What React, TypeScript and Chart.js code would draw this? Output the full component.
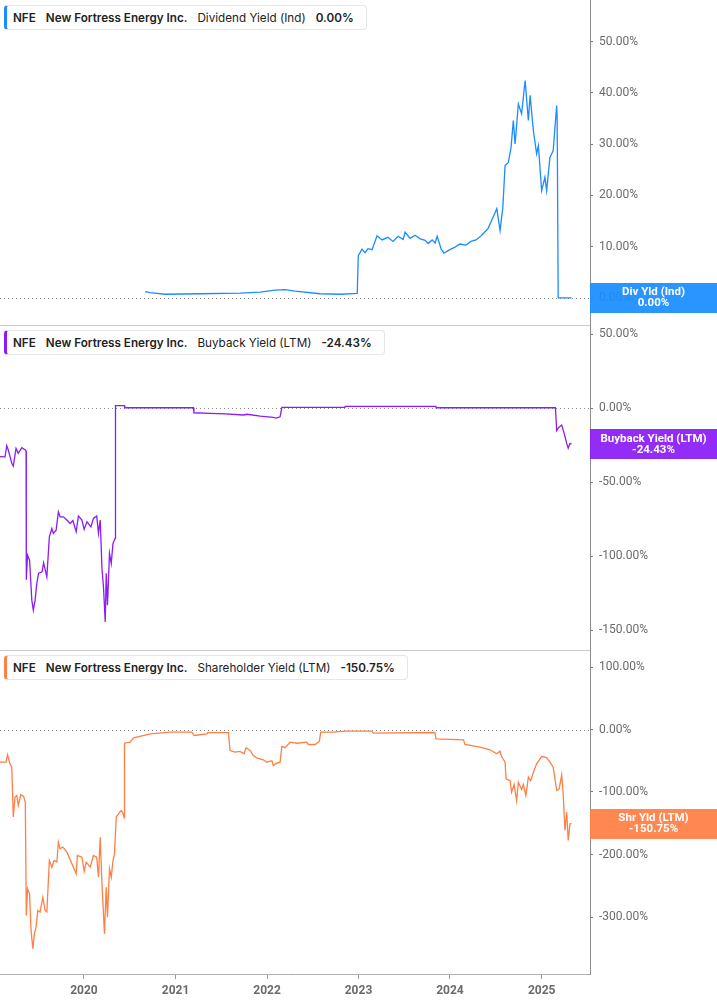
import React, { useEffect, useRef } from "react";
import { Chart, registerables } from "chart.js";

Chart.register(...registerables);

// ---------- data ----------
const X_MIN = "2019-01-31";
const X_MAX = "2025-07-13";
const YEAR_TICKS = [2020, 2021, 2022, 2023, 2024, 2025];

const DIV_DATES = [
  "2020-09-01", "2020-09-21", "2020-10-10", "2020-11-20", "2021-04-09", "2021-09-16", "2021-12-05",
  "2022-02-02", "2022-03-14", "2022-04-23", "2022-08-01", "2022-10-20", "2022-12-27", "2022-12-31",
  "2023-01-15", "2023-01-27", "2023-02-08", "2023-02-24", "2023-03-16", "2023-04-05", "2023-04-28",
  "2023-05-19", "2023-06-08", "2023-06-28", "2023-07-06", "2023-07-26", "2023-08-15", "2023-09-04",
  "2023-09-24", "2023-10-06", "2023-10-22", "2023-11-03", "2023-11-11", "2023-11-27", "2023-12-08",
  "2023-12-28", "2024-01-21", "2024-02-10", "2024-03-05", "2024-03-25", "2024-04-14", "2024-04-30",
  "2024-05-12", "2024-06-01", "2024-06-21", "2024-07-06", "2024-07-19", "2024-07-30", "2024-08-08",
  "2024-08-21", "2024-09-01", "2024-09-10", "2024-09-17", "2024-09-30", "2024-10-13", "2024-10-27",
  "2024-11-09", "2024-11-16", "2024-11-29", "2024-12-12", "2024-12-19", "2025-01-01", "2025-01-14",
  "2025-01-21", "2025-02-03", "2025-02-16", "2025-03-02", "2025-03-04", "2025-03-08", "2025-04-30",
];
const DIV_VALUES = [
  1.2, 1.0, 0.9, 0.7, 0.8, 0.9, 1.1,
  1.5, 1.6, 1.3, 0.8, 0.7, 0.85, 8.2,
  9.5, 8.8, 9.6, 9.4, 12.1, 11.3, 11.8,
  11.0, 12.0, 11.4, 12.8, 11.6, 12.2, 11.5,
  11.2, 10.6, 11.3, 10.7, 12.0, 9.5, 8.7,
  9.3, 9.9, 10.5, 10.3, 11.0, 11.3, 11.9,
  12.5, 13.5, 15.7, 17.4, 13.1, 17.6, 25.8,
  26.4, 29.4, 34.6, 30.0, 37.8, 35.9, 42.4,
  34.6, 39.5, 32.6, 28.1, 29.7, 20.9, 23.5,
  20.9, 27.4, 28.7, 37.5, 34.6, 0, 0,
];

const BUY_DATES = [
  "2019-01-31", "2019-02-20", "2019-02-27", "2019-03-05", "2019-03-19", "2019-03-25", "2019-04-05",
  "2019-04-14", "2019-04-28", "2019-05-12", "2019-05-15", "2019-05-16", "2019-05-21", "2019-05-29",
  "2019-06-07", "2019-06-13", "2019-06-20", "2019-06-27", "2019-07-04", "2019-07-18", "2019-07-24",
  "2019-08-06", "2019-08-16", "2019-08-26", "2019-09-01", "2019-09-12", "2019-09-21", "2019-09-28",
  "2019-10-11", "2019-10-25", "2019-11-07", "2019-11-18", "2019-12-01", "2019-12-10", "2019-12-24",
  "2020-01-02", "2020-01-13", "2020-01-29", "2020-02-08", "2020-02-21", "2020-02-28", "2020-03-06",
  "2020-03-13", "2020-03-19", "2020-03-26", "2020-03-30", "2020-04-04", "2020-04-12", "2020-04-19",
  "2020-04-26", "2020-05-02", "2020-05-05", "2020-05-06", "2020-06-11", "2020-06-12", "2021-03-13",
  "2021-03-15", "2021-05-19", "2021-07-18", "2021-09-28", "2021-10-13", "2021-12-05", "2022-01-26",
  "2022-02-06", "2022-02-22", "2022-03-01", "2022-11-08", "2022-11-09", "2023-11-06", "2023-11-07",
  "2025-02-25", "2025-03-02", "2025-03-11", "2025-03-22", "2025-04-01", "2025-04-11", "2025-04-17",
  "2025-04-24", "2025-04-30",
];
const BUY_VALUES = [
  -32.9, -33, -25.5, -28.4, -37.4, -39.2, -27.3,
  -30.6, -26.8, -28.4, -29, -116, -99.4, -102.8,
  -129.8, -136.6, -129.8, -118.3, -111.6, -110.7, -104.6,
  -114.1, -87, -81.4, -84.7, -82.5, -70.1, -73.5,
  -73.5, -75.7, -78, -76, -83.6, -73, -75.7,
  -82, -76.9, -80.3, -74.6, -73, -84.7, -75.7,
  -108.4, -120.8, -144.5, -111.6, -133.2, -98.2, -105,
  -91.5, -89.2, -88, 1.6, 1.6, 0.2, 0.2,
  -3.2, -3.6, -4.0, -4.7, -4.2, -5.5, -6.3,
  -6.8, -5.9, 0.5, 0.5, 1.1, 1.1, 0.2,
  0.2, -15.3, -13, -11.5, -17.1, -23.9, -27.2,
  -23.9, -24.43,
];

const SHR_DATES = [
  "2019-01-31", "2019-02-24", "2019-03-02", "2019-03-12", "2019-03-19", "2019-03-25", "2019-04-01",
  "2019-04-08", "2019-04-14", "2019-04-24", "2019-05-05", "2019-05-12", "2019-05-16", "2019-05-21",
  "2019-05-29", "2019-06-04", "2019-06-11", "2019-06-17", "2019-06-24", "2019-07-01", "2019-07-10",
  "2019-07-21", "2019-07-30", "2019-08-06", "2019-08-16", "2019-08-26", "2019-09-04", "2019-09-15",
  "2019-09-21", "2019-09-28", "2019-10-09", "2019-10-25", "2019-11-14", "2019-12-01", "2019-12-06",
  "2019-12-24", "2020-01-02", "2020-01-10", "2020-01-26", "2020-02-08", "2020-02-21", "2020-02-28",
  "2020-03-06", "2020-03-13", "2020-03-19", "2020-03-23", "2020-03-30", "2020-04-04", "2020-04-12",
  "2020-04-19", "2020-04-26", "2020-05-02", "2020-05-09", "2020-05-18", "2020-05-28", "2020-06-04",
  "2020-06-10", "2020-06-11", "2020-07-03", "2020-07-17", "2020-09-22", "2020-12-10", "2021-03-07",
  "2021-03-16", "2021-05-06", "2021-05-09", "2021-07-31", "2021-08-06", "2021-08-26", "2021-09-15",
  "2021-10-01", "2021-10-09", "2021-10-25", "2021-11-07", "2021-11-21", "2021-12-17", "2021-12-31",
  "2022-01-20", "2022-01-26", "2022-02-08", "2022-02-22", "2022-03-01", "2022-03-14", "2022-04-03",
  "2022-04-30", "2022-06-08", "2022-06-15", "2022-07-12", "2022-07-29", "2022-08-03", "2022-09-22",
  "2022-11-08", "2023-02-22", "2023-03-01", "2023-11-02", "2023-11-06", "2024-02-24", "2024-03-01",
  "2024-04-30", "2024-06-09", "2024-07-05", "2024-07-19", "2024-07-25", "2024-08-08", "2024-08-12",
  "2024-08-28", "2024-09-03", "2024-09-13", "2024-09-23", "2024-09-30", "2024-10-13", "2024-10-20",
  "2024-10-30", "2024-11-09", "2024-11-18", "2024-11-29", "2024-12-12", "2025-01-01", "2025-01-21",
  "2025-02-03", "2025-02-16", "2025-03-02", "2025-03-12", "2025-03-22", "2025-03-28", "2025-04-04",
  "2025-04-11", "2025-04-17", "2025-04-24", "2025-04-30",
];
const SHR_VALUES = [
  -52.3, -52, -40.5, -55, -60.3, -140, -108,
  -105.6, -121.6, -104, -107, -116, -297.6, -254.9,
  -263, -321.6, -350.9, -326.9, -316.3, -289.6, -292.3,
  -268.3, -289.6, -292, -209.6, -220.3, -209.6, -212,
  -180.3, -190.9, -188, -196.3, -214.9, -230.9, -201.6,
  -204.3, -226.7, -212.3, -220.3, -201.6, -204.3, -236.3,
  -172.3, -246.9, -294.9, -326.9, -252.3, -300.3, -222.9,
  -236.3, -209.6, -198.9, -140.3, -134.9, -129.6, -133,
  -141.3, -21.9, -20.3, -13.3, -6.9, -4.3, -4.3,
  -9.6, -6.9, -5, -5, -33.6, -36.3, -35,
  -38.9, -29.3, -33.6, -41.6, -45.3, -48.5, -52.3,
  -50, -57.6, -53.9, -52.3, -27.2, -29, -20.3,
  -22, -20.3, -24, -24, -18.7, -4.3, -4.3,
  -2.7, -2.7, -5.9, -4.8, -14.9, -16.5, -24,
  -28.3, -32.5, -38.9, -34.7, -43.2, -52.3, -78.9,
  -82, -100.3, -88, -113.6, -84.3, -96, -88,
  -105.6, -76.3, -82, -68.3, -54.9, -43.2, -45,
  -52.3, -60.3, -97.6, -95, -72.5, -102.9, -161.6,
  -132.3, -177.6, -150.9, -150.75,
];

const DIV_TICKS = [0, 10, 20, 30, 40, 50];
const BUY_TICKS = [50, 0, -50, -100, -150];
const SHR_TICKS = [100, 0, -100, -200, -300];

// ---------- helpers ----------
const ts = (d: string) => {
  const [y, m, dd] = d.split("-").map(Number);
  return Date.UTC(y, m - 1, dd);
};
const pct = (v: number) => `${v.toFixed(2)}%`;

const AXIS_W = 127;
const W = 717;

type PanelProps = {
  top: number;
  height: number;
  dates: string[];
  values: number[];
  color: string;
  yMin: number;
  yMax: number;
  ticks: number[];
  boxLabel: string;
  seriesName: string;
  showX: boolean;
  topLine: boolean;
};

function Panel(p: PanelProps) {
  const ref = useRef<HTMLCanvasElement | null>(null);
  useEffect(() => {
    if (!ref.current) return;
    const last = p.values[p.values.length - 1];
    const decor = {
      id: "decor",
      beforeDatasetsDraw(chart: any) {
        const { ctx, chartArea: a } = chart;
        const y0 = Math.round(chart.scales.y.getPixelForValue(0)) + 0.5;
        ctx.save();
        ctx.strokeStyle = "#8a8a8a";
        ctx.lineWidth = 1;
        ctx.setLineDash([1, 3]);
        ctx.beginPath();
        ctx.moveTo(a.left, y0);
        ctx.lineTo(a.right, y0);
        ctx.stroke();
        if (p.topLine) {
          ctx.setLineDash([]);
          ctx.strokeStyle = "#c9c9c9";
          ctx.beginPath();
          ctx.moveTo(a.left, a.top + 0.5);
          ctx.lineTo(a.right, a.top + 0.5);
          ctx.stroke();
        }
        ctx.restore();
      },
      afterDraw(chart: any) {
        const { ctx, chartArea: a } = chart;
        const yc = chart.scales.y.getPixelForValue(last);
        const h = 30;
        ctx.save();
        ctx.globalAlpha = 0.93;
        ctx.fillStyle = p.color;
        ctx.fillRect(a.right, Math.round(yc - h / 2), W - a.right, h);
        ctx.globalAlpha = 1;
        ctx.fillStyle = "#ffffff";
        ctx.font = "bold 11.5px Roboto";
        ctx.textAlign = "center";
        ctx.textBaseline = "middle";
        const cx = a.right + (W - a.right) / 2;
        ctx.fillText(p.boxLabel, cx, yc - 5.5);
        ctx.fillText(pct(last), cx, yc + 5.5);
        ctx.restore();
      },
    };
    const chart = new Chart(ref.current, {
      type: "line",
      data: {
        datasets: [
          {
            data: p.dates.map((d, i) => ({ x: ts(d), y: p.values[i] })),
            borderColor: p.color,
            borderWidth: 1.3,
            pointRadius: 0,
            tension: 0,
            fill: false,
          },
        ],
      },
      options: {
        animation: false,
        responsive: false,
        maintainAspectRatio: false,
        events: [],
        layout: { padding: 0 },
        plugins: { legend: { display: false }, tooltip: { enabled: false } },
        scales: {
          x: {
            type: "linear",
            min: ts(X_MIN),
            max: ts(X_MAX),
            display: p.showX,
            afterBuildTicks: (s: any) => {
              s.ticks = YEAR_TICKS.map((y) => ({ value: Date.UTC(y, 0, 1) }));
            },
            afterFit: (s: any) => {
              s.height = p.showX ? 31 : 0;
              s.paddingLeft = 0;
              s.paddingRight = 0;
            },
            grid: { drawOnChartArea: false, drawTicks: true, tickLength: 5, color: "#9a9a9a" },
            border: { display: true, color: "#b0b0b0", width: 1 },
            ticks: {
              autoSkip: false,
              maxRotation: 0,
              padding: 5,
              color: "#6b6b6b",
              font: { family: "Roboto", size: 12, weight: "bold" },
              callback: (v: any) => String(new Date(Number(v)).getUTCFullYear()),
            },
          },
          y: {
            position: "right",
            min: p.yMin,
            max: p.yMax,
            afterBuildTicks: (s: any) => {
              s.ticks = p.ticks.map((v) => ({ value: v }));
            },
            afterFit: (s: any) => {
              s.width = AXIS_W;
              s.paddingTop = 0;
              s.paddingBottom = 0;
            },
            grid: { drawOnChartArea: false, drawTicks: true, tickLength: 3, color: "#777" },
            border: { display: true, color: "#8c8c8c", width: 1 },
            ticks: {
              padding: 6,
              color: "#6b6b6b",
              font: { family: "Roboto", size: 12 },
              callback: (v: any) => pct(Number(v)),
            },
          },
        },
      } as any,
      plugins: [decor],
    });
    return () => chart.destroy();
  }, []);

  const last = p.values[p.values.length - 1];
  return (
    <div style={{ position: "absolute", left: 0, top: p.top, width: W, height: p.height }}>
      <canvas ref={ref} width={W} height={p.height} style={{ display: "block" }} />
      <div
        style={{
          position: "absolute",
          left: 4,
          top: 5,
          height: 25,
          boxSizing: "border-box",
          display: "flex",
          alignItems: "center",
          gap: 10,
          paddingLeft: 6,
          paddingRight: 12,
          background: "#fff",
          border: "1px solid #e6e6e6",
          borderLeft: `3px solid ${p.color}`,
          borderRadius: 4,
          fontFamily: "Inter, 'Noto Sans', sans-serif",
          fontSize: 11.7,
          color: "#222",
          whiteSpace: "nowrap",
        }}
      >
        <span style={{ fontWeight: 600 }}>NFE</span>
        <span style={{ fontWeight: 600 }}>New Fortress Energy Inc.</span>
        <span style={{ fontWeight: 400 }}>{p.seriesName}</span>
        <span style={{ fontWeight: 600 }}>{pct(last)}</span>
      </div>
    </div>
  );
}

export default function App() {
  return (
    <div style={{ position: "absolute", left: 0, top: 0, width: W, height: 1005, background: "#fff" }}>
      <Panel
        top={0}
        height={325}
        dates={DIV_DATES}
        values={DIV_VALUES}
        color="#1a8cff"
        yMin={-5.3}
        yMax={58.1}
        ticks={DIV_TICKS}
        boxLabel="Div Yld (Ind)"
        seriesName="Dividend Yield (Ind)"
        showX={false}
        topLine={false}
      />
      <Panel
        top={325}
        height={325}
        dates={BUY_DATES}
        values={BUY_VALUES}
        color="#8b1cf5"
        yMin={-163.5}
        yMax={56.1}
        ticks={BUY_TICKS}
        boxLabel="Buyback Yield (LTM)"
        seriesName="Buyback Yield (LTM)"
        showX={false}
        topLine={true}
      />
      <Panel
        top={650}
        height={355}
        dates={SHR_DATES}
        values={SHR_VALUES}
        color="#ff7f45"
        yMin={-391.2}
        yMax={127.2}
        ticks={SHR_TICKS}
        boxLabel="Shr Yld (LTM)"
        seriesName="Shareholder Yield (LTM)"
        showX={true}
        topLine={true}
      />
    </div>
  );
}
